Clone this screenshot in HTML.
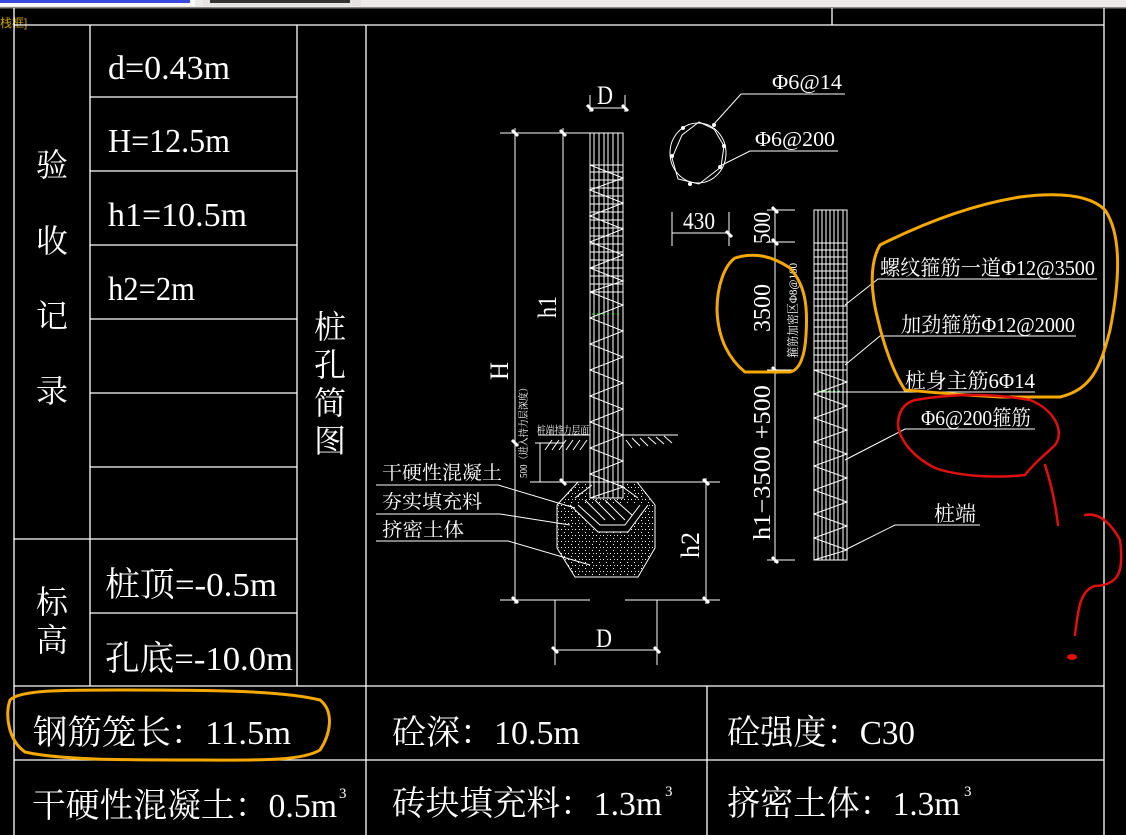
<!DOCTYPE html>
<html><head><meta charset="utf-8"><style>
html,body{margin:0;padding:0;background:#000;width:1126px;height:835px;overflow:hidden}
svg{display:block}
text{font-family:"Liberation Serif","Noto Serif CJK SC","Noto Sans CJK SC",serif;fill:#fff}
.c{font-family:"Liberation Sans","Noto Sans CJK SC",sans-serif}
</style></head><body>
<svg width="1126" height="835" viewBox="0 0 1126 835" xmlns="http://www.w3.org/2000/svg">
<defs>
<pattern id="dots" width="7" height="6" patternUnits="userSpaceOnUse">
<rect x="1" y="1" width="1" height="1" fill="#fff"/><rect x="4" y="4" width="1" height="1" fill="#fff"/><rect x="5" y="1" width="1" height="1" fill="#ccc"/>
</pattern>
</defs>
<rect width="1126" height="835" fill="#000"/>
<rect x="0" y="0" width="1126" height="7" fill="#eeeaea"/>
<rect x="0" y="0" width="195" height="6" fill="#fafafa"/>
<rect x="0" y="0" width="190" height="3" fill="#3a4ae0"/>
<rect x="203" y="0" width="158" height="6" fill="#e6e2e2"/>
<rect x="210" y="0" width="140" height="3" fill="#333"/>
<rect x="0" y="7" width="1126" height="1.5" fill="#888"/>
<text x="0" y="27" font-size="12" style="fill:#c8a000" class="c">栈框]</text>

<g stroke="#fff" stroke-width="1.3" fill="none">
<line x1="14" y1="8" x2="14" y2="835"/>
<line x1="14" y1="25" x2="1104" y2="25"/>
<line x1="832" y1="8" x2="832" y2="25"/>
<line x1="1104" y1="8" x2="1104" y2="835"/>
<line x1="90" y1="25" x2="90" y2="686"/>
<line x1="297" y1="25" x2="297" y2="686"/>
<line x1="366" y1="25" x2="366" y2="835"/>
<line x1="707" y1="686" x2="707" y2="835"/>
<line x1="90" y1="97" x2="297" y2="97"/>
<line x1="90" y1="171" x2="297" y2="171"/>
<line x1="90" y1="245" x2="297" y2="245"/>
<line x1="90" y1="319" x2="297" y2="319"/>
<line x1="90" y1="393" x2="297" y2="393"/>
<line x1="90" y1="467" x2="297" y2="467"/>
<line x1="14" y1="539" x2="297" y2="539"/>
<line x1="90" y1="613" x2="297" y2="613"/>
<line x1="14" y1="686" x2="1104" y2="686"/>
<line x1="14" y1="760" x2="1104" y2="760"/>
</g>

<g font-size="34">
<text x="108" y="79" textLength="122" lengthAdjust="spacingAndGlyphs">d=0.43m</text>
<text x="108" y="152" textLength="122" lengthAdjust="spacingAndGlyphs">H=12.5m</text>
<text x="108" y="226" textLength="139" lengthAdjust="spacingAndGlyphs">h1=10.5m</text>
<text x="108" y="300" textLength="87" lengthAdjust="spacingAndGlyphs">h2=2m</text>
<text x="105" y="596" textLength="172" lengthAdjust="spacingAndGlyphs">桩顶=-0.5m</text>
<text x="105" y="670" textLength="188" lengthAdjust="spacingAndGlyphs">孔底=-10.0m</text>
</g>
<g font-size="32">
<text x="36" y="176">验</text><text x="36" y="252">收</text><text x="36" y="327">记</text><text x="36" y="402">录</text>
<text x="36" y="613">标</text><text x="36" y="651">高</text>
<text x="314" y="338">桩</text><text x="314" y="376">孔</text><text x="314" y="414">简</text><text x="314" y="452">图</text>
</g>
<g font-size="34">
<text x="33" y="744" textLength="258" lengthAdjust="spacingAndGlyphs">钢筋笼长：11.5m</text>
<text x="392" y="744" textLength="188" lengthAdjust="spacingAndGlyphs">砼深：10.5m</text>
<text x="727" y="744" textLength="188" lengthAdjust="spacingAndGlyphs">砼强度：C30</text>
<text x="32" y="817" textLength="305" lengthAdjust="spacingAndGlyphs">干硬性混凝土：0.5m</text>
<text x="392" y="815" textLength="270" lengthAdjust="spacingAndGlyphs">砖块填充料：1.3m</text>
<text x="727" y="815" textLength="233" lengthAdjust="spacingAndGlyphs">挤密土体：1.3m</text>
</g>
<g font-size="15"><text x="339" y="798">3</text><text x="665" y="796">3</text><text x="964" y="796">3</text></g>

<!-- middle pile drawing -->
<path d="M578 482H637L655 505V548L638 577H575L557 548V505Z" fill="url(#dots)"/>
<g stroke="#fff" stroke-width="1" fill="none">
<line x1="590" y1="108" x2="625" y2="108"/>
<line x1="590" y1="95" x2="590" y2="112"/><line x1="625" y1="95" x2="625" y2="112"/>
<rect x="590" y="133" width="33" height="365" fill="#000"/>
<line x1="594" y1="133" x2="594" y2="498"/><line x1="599" y1="133" x2="599" y2="498"/>
<line x1="604" y1="133" x2="604" y2="498"/><line x1="608" y1="133" x2="608" y2="498"/>
<line x1="613" y1="133" x2="613" y2="498"/><line x1="618" y1="133" x2="618" y2="498"/>
<path d="M590 165H623M590 172H623M590 180H623M590 188H623M590 196H623M590 204H623M590 212H623M590 220H623M590 228H623M590 236H623M590 244H623M590 252H623M590 260H623M590 268H623M590 276H623M590 284H623M590 292H623"/>
<path d="M590 292L623 305L590 318L623 331L590 344L623 357L590 370L623 383L590 396L623 409L590 422L623 435L590 448L623 461L590 474L623 487L590 498"/>
<path d="M590 165L623 178L590 190L623 203L590 216L623 229L590 242L623 255L590 268L623 281L590 292"/>
<line x1="500" y1="133" x2="590" y2="133"/>
<line x1="515" y1="128" x2="515" y2="604"/>
<line x1="563" y1="128" x2="563" y2="482"/>
<line x1="500" y1="600" x2="590" y2="600"/>
<line x1="625" y1="600" x2="720" y2="600"/>
<line x1="530" y1="482" x2="720" y2="482"/>
<line x1="535" y1="443" x2="563" y2="443"/>
<line x1="540" y1="443" x2="540" y2="482"/>
<line x1="706" y1="478" x2="706" y2="604"/>
<line x1="555" y1="600" x2="555" y2="665"/><line x1="657" y1="600" x2="657" y2="665"/>
<line x1="555" y1="650" x2="657" y2="650"/>
<path d="M538 435H590M623 435H678"/>
<path d="M545 450L552 440M552 450L559 440M559 450L566 440M566 450L573 440M573 450L580 440M580 450L587 440M626 440L632 448M632 438L640 446M640 438L648 446M648 437L656 444M656 437L664 444M664 436L672 443"/>
<path d="M578 482H637L655 505V548L638 577H575L557 548V505Z"/>
<path d="M575 498L592 485M638 498L620 485"/>
<path d="M570 505L598 532H628L648 505" fill="#000"/>
<path d="M578 505L600 525H625L640 505M585 500L605 520M595 500L615 520M605 500L625 520M615 500L632 515"/>
<path d="M376 485H498L575 508"/>
<path d="M376 514H500L570 525"/>
<path d="M376 541H508L590 565"/>
</g>
<g stroke="#fff" stroke-width="3">
<path d="M512 130l6 6M560 130l6 6M512 597l6 6M512 440l6 6M703 479l6 6M703 597l6 6M552 647l6 6M654 647l6 6M587 105l6 6M622 105l6 6M560 479l6 6"/>
</g>
<g stroke-dasharray="2,3" stroke="#0f0" stroke-width="1"><line x1="592" y1="314" x2="622" y2="314"/><line x1="818" y1="391" x2="843" y2="391"/></g>
<g font-size="19">
<text x="382" y="479" textLength="120" lengthAdjust="spacingAndGlyphs">干硬性混凝土</text>
<text x="382" y="508" textLength="100" lengthAdjust="spacingAndGlyphs">夯实填充料</text>
<text x="382" y="536" textLength="82" lengthAdjust="spacingAndGlyphs">挤密土体</text>
</g>
<g font-size="11"><text x="537" y="434" textLength="52" lengthAdjust="spacingAndGlyphs">桩端持力层面</text></g>
<text transform="translate(527,478) rotate(-90)" font-size="10" textLength="95" lengthAdjust="spacingAndGlyphs">500（进入持力层深度）</text>
<g font-size="26" class="c">
<text x="597" y="104" textLength="16" lengthAdjust="spacingAndGlyphs">D</text>
<text x="596" y="647" textLength="16" lengthAdjust="spacingAndGlyphs">D</text>
<text transform="translate(508,380) rotate(-90)" textLength="18" lengthAdjust="spacingAndGlyphs">H</text>
<text transform="translate(556,318) rotate(-90)" textLength="22" lengthAdjust="spacingAndGlyphs">h1</text>
<text transform="translate(699,558) rotate(-90)" textLength="26" lengthAdjust="spacingAndGlyphs">h2</text>
</g>

<!-- right drawing -->
<g stroke="#fff" stroke-width="1" fill="none">
<ellipse cx="698" cy="153" rx="28" ry="30"/>
<path d="M699 122L714 129L724 146L721 167L699 184L678 179L672 158L682 135Z"/>
<path d="M714 124L741 94H845M720 166L750 151H838"/>
<path d="M672 212V246M729 212V246M672 233H729"/>
<path d="M775 210V563M767 210H795M767 242H795M767 370H795M767 560H795"/>
<rect x="814" y="210" width="33" height="350"/>
<path d="M818 210V560M822 210V560M826 210V560M830 210V560M834 210V560M838 210V560M843 210V560"/>
<path d="M814 243H847M814 250H847M814 257H847M814 264H847M814 271H847M814 278H847M814 285H847M814 292H847M814 299H847M814 306H847M814 313H847M814 320H847M814 327H847M814 334H847M814 341H847M814 348H847M814 355H847M814 362H847M814 370H847"/>
<path d="M814 370L847 382L814 394L847 406L814 418L847 430L814 442L847 454L814 466L847 478L814 490L847 502L814 514L847 526L814 538L847 550L814 560"/>
<path d="M845 305L878 279H1097M845 365L880 336H1076M820 392H1035M845 460L905 429H1035M845 550L895 525H980"/>
</g>
<g stroke="#fff" stroke-width="3"><path d="M726 231l6 6M772 207l6 6M772 239l6 6M772 367l6 6M772 557l6 6"/></g>
<g fill="#fff"><circle cx="714" cy="125" r="2"/><circle cx="724" cy="146" r="2"/><circle cx="720" cy="167" r="2"/><circle cx="690" cy="184" r="2"/><circle cx="672" cy="156" r="2"/><circle cx="683" cy="128" r="2"/></g>
<g font-size="21">
<text x="772" y="89" textLength="70" lengthAdjust="spacingAndGlyphs">Φ6@14</text>
<text x="755" y="146" textLength="80" lengthAdjust="spacingAndGlyphs">Φ6@200</text>
<text x="880" y="275" textLength="215" lengthAdjust="spacingAndGlyphs">螺纹箍筋一道Φ12@3500</text>
<text x="901" y="332" textLength="174" lengthAdjust="spacingAndGlyphs">加劲箍筋Φ12@2000</text>
<text x="905" y="388" textLength="130" lengthAdjust="spacingAndGlyphs">桩身主筋6Φ14</text>
<text x="921" y="425" textLength="110" lengthAdjust="spacingAndGlyphs">Φ6@200箍筋</text>
<text x="934" y="521" textLength="42" lengthAdjust="spacingAndGlyphs">桩端</text>
</g>
<g font-size="24" class="c">
<text x="683" y="229" textLength="32" lengthAdjust="spacingAndGlyphs">430</text>
<text transform="translate(770,244) rotate(-90)" textLength="32" lengthAdjust="spacingAndGlyphs">500</text>
<text transform="translate(770,332) rotate(-90)" textLength="48" lengthAdjust="spacingAndGlyphs">3500</text>
<text transform="translate(770,540) rotate(-90)" textLength="155" lengthAdjust="spacingAndGlyphs">h1−3500 +500</text>
</g>
<text transform="translate(797,358) rotate(-90)" font-size="12" textLength="95" lengthAdjust="spacingAndGlyphs">箍筋加密区Φ8@100</text>

<g fill="none" stroke-linecap="round" stroke-linejoin="round">
<path d="M735 258C755 252 772 256 790 268C805 285 808 305 806 335C805 355 800 370 790 372H745C730 360 718 340 717 310C717 285 725 265 735 258Z" stroke="#f5a800" stroke-width="3"/>
<path d="M880 245C920 225 970 205 1020 197C1060 192 1090 195 1105 210C1122 235 1120 280 1110 330C1100 370 1090 390 1060 397H1000C960 395 930 392 905 390C895 375 885 350 878 320C870 290 870 262 880 245Z" stroke="#f5a800" stroke-width="3"/>
<path d="M10 700C20 690 60 690 120 690C200 690 280 690 320 700C335 712 330 735 320 750C300 762 250 760 200 760C120 760 60 760 25 752C8 740 5 715 10 700Z" stroke="#f5a800" stroke-width="3"/>
<path d="M915 400C950 394 990 393 1030 400C1055 410 1065 432 1055 445C1045 455 1035 462 1025 475C1000 478 960 477 935 468C915 458 900 442 898 425C898 410 905 403 915 400Z" stroke="#e01010" stroke-width="2.5"/>
<path d="M1045 465C1050 480 1055 500 1058 525" stroke="#e01010" stroke-width="2.5"/>
<path d="M1085 515C1100 512 1112 525 1120 540C1124 570 1120 585 1095 586C1080 590 1078 610 1075 635" stroke="#e01010" stroke-width="2.5"/>
<ellipse cx="1072" cy="657" rx="5" ry="3" fill="#e01010"/>
</g>
</svg>
</body></html>
